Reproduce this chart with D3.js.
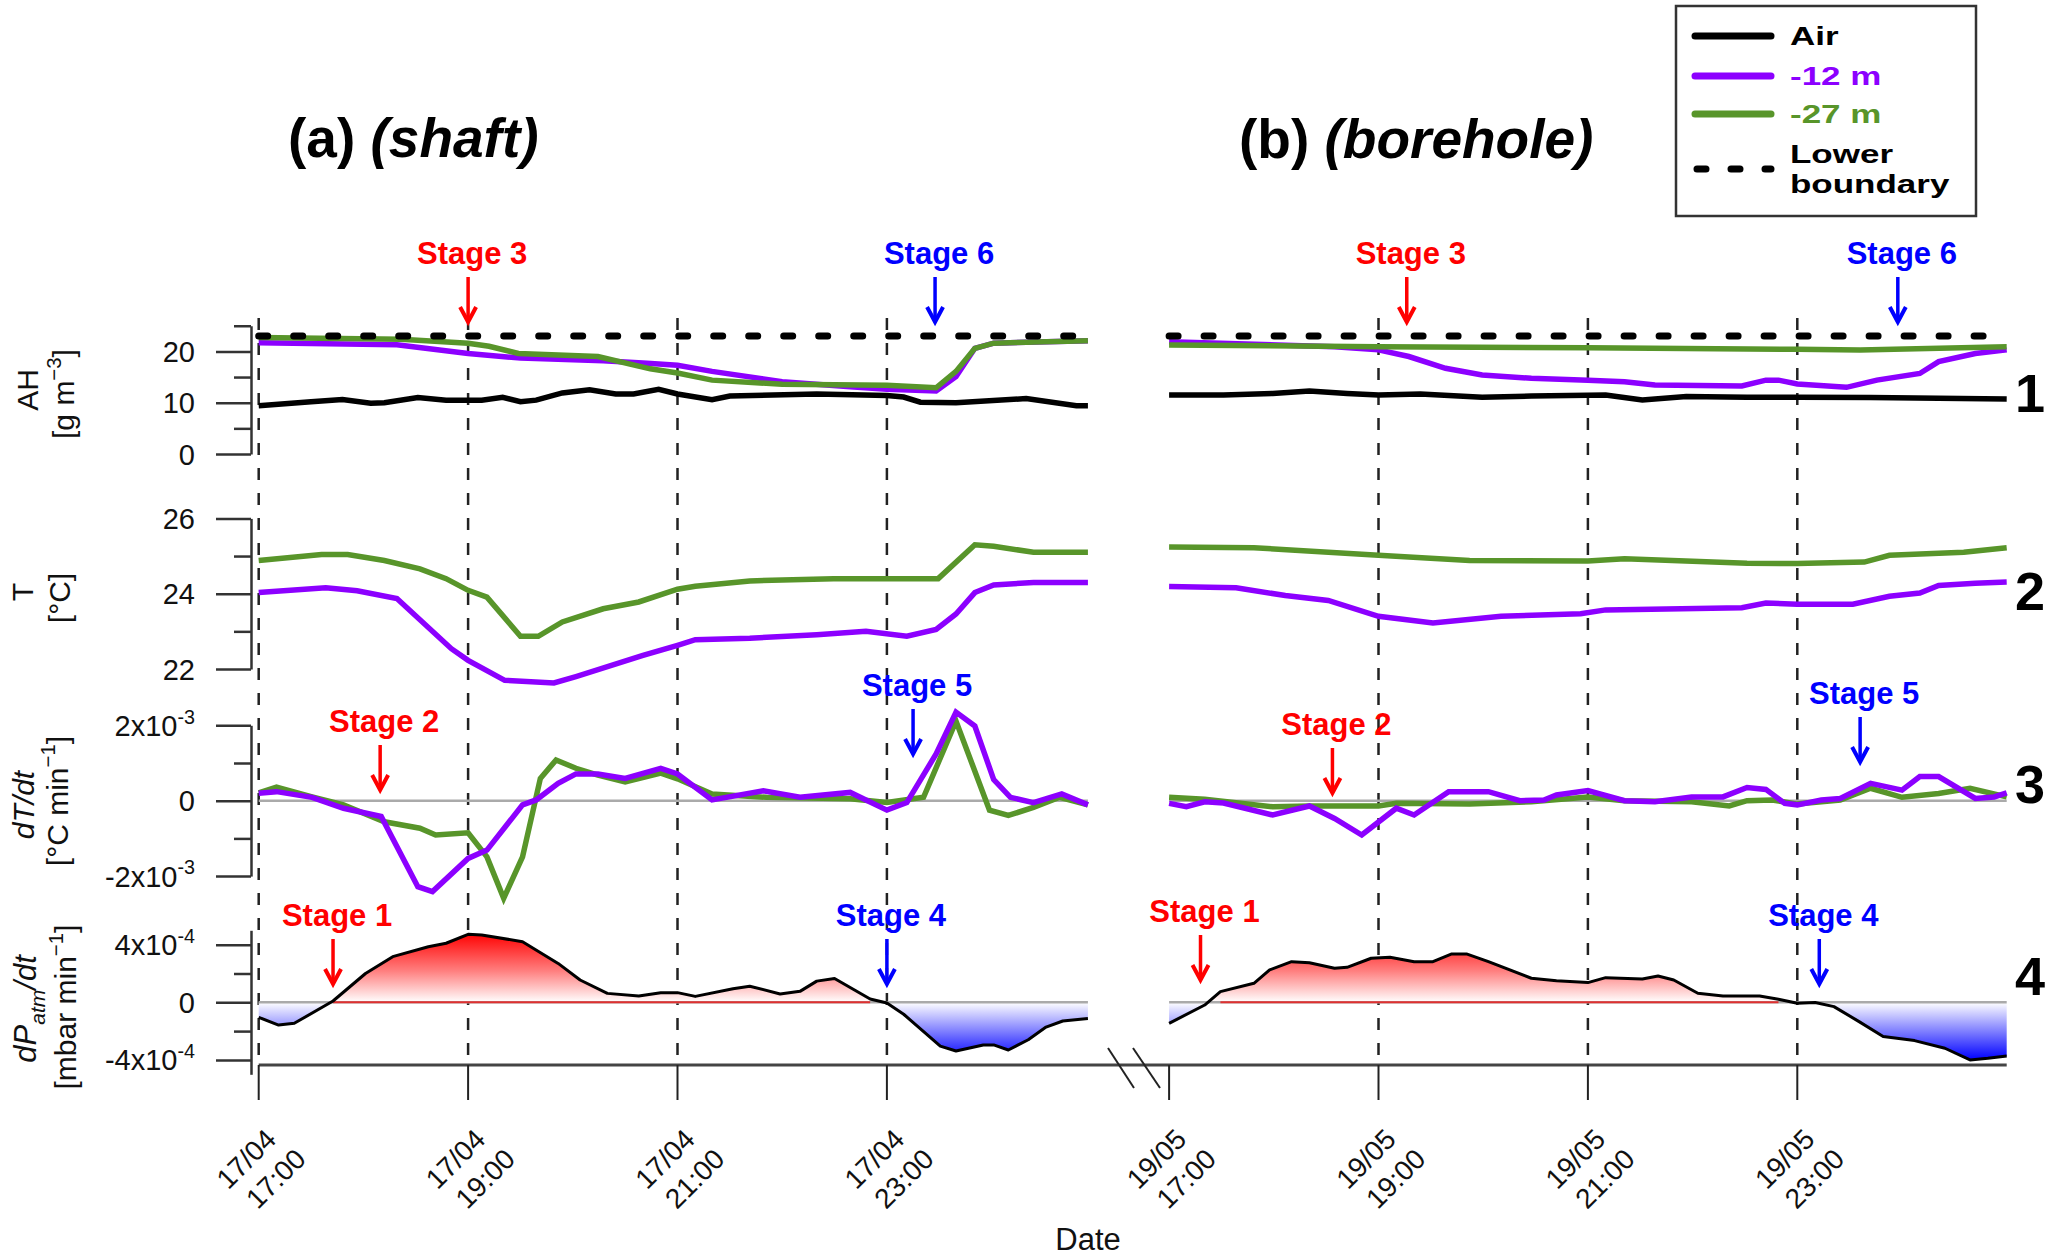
<!DOCTYPE html>
<html>
<head>
<meta charset="utf-8">
<script src="https://cdn.jsdelivr.net/npm/d3@7"></script>
<style>
  body { margin: 0; background: #fff; }
  svg { display: block; font-family: "Liberation Sans", Arial, sans-serif; }
</style>
</head>
<body>
<div id="wrapper"></div>
<script>
// Data. Time = hours after 17:00.

// (a) shaft, 17/04
const shaftAHair = [[0,9.4],[0.5,10.2],[0.8,10.6],[1.07,9.9],[1.2,10.0],[1.52,11.0],[1.79,10.5],[2.13,10.5],[2.33,11.05],[2.5,10.2],[2.65,10.5],[2.9,11.9],[3.16,12.5],[3.41,11.7],[3.58,11.7],[3.82,12.6],[4.0,11.7],[4.33,10.6],[4.5,11.3],[5.33,11.7],[6.0,11.4],[6.16,11.1],[6.32,10.1],[6.66,10.0],[7.33,10.8],[7.81,9.4],[7.92,9.4]];
const shaftAHm12 = [[0,21.7],[1.32,21.3],[2.0,19.6],[2.5,18.7],[3.29,18.2],[3.71,17.7],[4.0,17.3],[4.33,16.1],[5.0,14.1],[5.65,13.1],[6.0,12.6],[6.47,12.3],[6.66,15.1],[6.84,20.6],[7.02,21.6],[7.92,22.1]];
const shaftAHm27 = [[0,22.7],[1.36,22.35],[2.0,21.6],[2.2,21.0],[2.48,19.6],[3.24,19.0],[3.74,16.6],[4.0,15.8],[4.33,14.4],[5.0,13.6],[6.0,13.4],[6.47,12.9],[6.66,16.1],[6.84,20.6],[7.02,21.6],[7.92,22.1]];
const shaftTm12 = [[0,24.03],[0.64,24.16],[0.94,24.08],[1.32,23.87],[1.84,22.54],[2.0,22.23],[2.35,21.7],[2.82,21.63],[3.03,21.8],[3.67,22.36],[4.0,22.63],[4.17,22.78],[4.69,22.82],[5.33,22.91],[5.8,23.0],[6.19,22.87],[6.47,23.05],[6.66,23.46],[6.84,24.03],[7.02,24.23],[7.4,24.3],[7.92,24.3]];
const shaftTm27 = [[0,24.88],[0.6,25.04],[0.85,25.04],[1.2,24.88],[1.54,24.66],[1.79,24.4],[2.0,24.09],[2.18,23.91],[2.5,22.87],[2.67,22.87],[2.9,23.25],[3.29,23.6],[3.63,23.78],[4.0,24.12],[4.17,24.2],[4.69,24.34],[5.49,24.4],[6.49,24.4],[6.84,25.3],[7.02,25.26],[7.4,25.1],[7.92,25.1]];
// dT/dt in 1e-3 degC/min
const shaftDTm12 = [[0,0.2],[0.17,0.24],[0.51,0.09],[0.81,-0.2],[1.17,-0.42],[1.52,-2.28],[1.66,-2.41],[2.0,-1.53],[2.18,-1.31],[2.52,-0.11],[2.65,0.02],[2.86,0.46],[3.03,0.71],[3.24,0.71],[3.5,0.59],[3.84,0.86],[4.0,0.71],[4.33,0.02],[4.82,0.26],[5.17,0.09],[5.65,0.22],[6.0,-0.25],[6.19,-0.05],[6.47,1.24],[6.66,2.35],[6.84,1.98],[7.02,0.56],[7.18,0.09],[7.4,-0.05],[7.67,0.18],[7.92,-0.11]];
const shaftDTm27 = [[0,0.21],[0.17,0.36],[0.51,0.1],[0.81,-0.11],[1.2,-0.56],[1.54,-0.73],[1.69,-0.91],[2.0,-0.85],[2.18,-1.49],[2.34,-2.59],[2.52,-1.49],[2.69,0.59],[2.84,1.08],[3.03,0.86],[3.24,0.68],[3.5,0.5],[3.84,0.73],[4.0,0.58],[4.33,0.18],[4.85,0.09],[5.65,0.05],[6.0,-0.05],[6.35,0.09],[6.66,2.11],[6.98,-0.25],[7.16,-0.39],[7.4,-0.18],[7.65,0.09],[7.92,-0.11]];
// dPatm/dt in 1e-4 mbar/min
const shaftDP = [[0,-1.04],[0.19,-1.58],[0.34,-1.46],[0.71,0.09],[1.02,2.0],[1.28,3.17],[1.62,3.86],[1.79,4.1],[2.0,4.72],[2.13,4.67],[2.52,4.21],[2.86,2.7],[3.07,1.55],[3.33,0.62],[3.63,0.44],[3.84,0.67],[4.0,0.67],[4.17,0.41],[4.53,0.94],[4.69,1.12],[4.98,0.58],[5.17,0.76],[5.33,1.47],[5.5,1.65],[5.84,0.23],[6.0,-0.05],[6.16,-0.83],[6.51,-3.04],[6.66,-3.38],[6.92,-2.96],[7.02,-2.96],[7.16,-3.31],[7.35,-2.6],[7.52,-1.72],[7.68,-1.3],[7.92,-1.12]];

// (b) borehole, 19/05
const boreAHair = [[0,11.5],[0.52,11.5],[0.99,11.8],[1.34,12.3],[1.7,11.8],[2.0,11.5],[2.4,11.7],[2.99,11.05],[3.46,11.3],[4.17,11.5],[4.52,10.55],[4.94,11.2],[5.52,11.05],[6.0,11.05],[6.7,11.0],[8.0,10.7]];
const boreAHm12 = [[0,21.9],[1.58,20.9],[2.0,20.3],[2.29,19.0],[2.64,16.7],[2.99,15.4],[3.46,14.75],[4.0,14.4],[4.35,14.1],[4.64,13.45],[5.47,13.25],[5.7,14.4],[5.82,14.4],[6.0,13.65],[6.47,13.0],[6.76,14.4],[7.17,15.7],[7.35,18.0],[7.7,19.6],[8.0,20.3]];
const boreAHm27 = [[0,21.25],[2.0,20.9],[4.0,20.7],[6.0,20.4],[6.6,20.27],[8.0,20.9]];
const boreTm12 = [[0,24.19],[0.64,24.16],[1.11,23.95],[1.52,23.82],[2.0,23.4],[2.52,23.22],[3.17,23.4],[3.93,23.47],[4.17,23.57],[5.47,23.63],[5.7,23.75],[6.0,23.72],[6.53,23.72],[6.88,23.93],[7.17,24.02],[7.35,24.22],[7.7,24.28],[8.0,24.31]];
const boreTm27 = [[0,25.24],[0.81,25.22],[2.0,25.02],[2.87,24.88],[4.0,24.87],[4.35,24.93],[5.52,24.81],[6.0,24.8],[6.64,24.84],[6.88,25.02],[7.59,25.1],[8.0,25.22]];
const boreDTm12 = [[0,-0.07],[0.165,-0.16],[0.34,-0.03],[0.52,-0.06],[0.99,-0.38],[1.34,-0.14],[1.58,-0.47],[1.84,-0.91],[2.17,-0.2],[2.34,-0.38],[2.67,0.24],[3.05,0.24],[3.35,0],[3.58,0.02],[3.7,0.15],[4.0,0.27],[4.35,0],[4.64,-0.03],[4.99,0.1],[5.29,0.1],[5.52,0.35],[5.7,0.3],[5.88,-0.07],[6.0,-0.11],[6.23,0.02],[6.41,0.06],[6.7,0.46],[7.0,0.28],[7.17,0.64],[7.35,0.64],[7.7,0.06],[7.88,0.1],[8.0,0.21]];
const boreDTm27 = [[0,0.09],[0.34,0.04],[0.99,-0.16],[1.34,-0.14],[2.0,-0.14],[2.17,-0.07],[2.87,-0.09],[3.46,-0.03],[4.0,0.1],[4.35,0],[4.99,-0.03],[5.35,-0.14],[5.52,0],[5.76,0.02],[6.0,-0.09],[6.41,0.02],[6.7,0.33],[7.0,0.09],[7.35,0.19],[7.65,0.33],[8.0,0.1]];
const boreDP = [[0,-1.46],[0.34,-0.19],[0.49,0.74],[0.81,1.32],[0.96,2.25],[1.17,2.82],[1.34,2.75],[1.58,2.36],[1.7,2.43],[1.93,3.06],[2.11,3.13],[2.34,2.82],[2.52,2.82],[2.7,3.36],[2.84,3.36],[3.05,2.82],[3.46,1.67],[3.7,1.5],[4.0,1.37],[4.17,1.71],[4.52,1.62],[4.67,1.83],[4.82,1.55],[5.05,0.63],[5.29,0.44],[5.64,0.44],[5.82,0.21],[6.0,-0.07],[6.17,-0.02],[6.35,-0.3],[6.59,-1.34],[6.82,-2.38],[7.12,-2.66],[7.41,-3.19],[7.65,-4.0],[7.82,-3.89],[8.0,-3.73]];

const lowerBoundary = 23;

const tickHours = [0, 2, 4, 6];
const shaftDates = ['17/04', '17/04', '17/04', '17/04'];
const boreDates = ['19/05', '19/05', '19/05', '19/05'];
const clockLabels = ['17:00', '19:00', '21:00', '23:00'];

// stage markers: site, label, hour
const stageSites = ['shaft', 'shaft', 'shaft', 'shaft', 'shaft', 'shaft', 'bore', 'bore', 'bore', 'bore', 'bore', 'bore'];
const stageLabels = ['Stage 1', 'Stage 2', 'Stage 3', 'Stage 4', 'Stage 5', 'Stage 6', 'Stage 1', 'Stage 2', 'Stage 3', 'Stage 4', 'Stage 5', 'Stage 6'];
const stageHours = [0.71, 1.16, 2.0, 6.0, 6.25, 6.46, 0.3, 1.56, 2.27, 6.21, 6.6, 6.96];

const legendLabels = ['Air', '-12 m', '-27 m'];

// ---- layout
const W = 2067, H = 1259;
const axisX = 251;
const colAir = '#000', colM12 = '#8c00ff', colM27 = '#58952a';
const colRed = '#ff0000', colBlue = '#0000ff';
const stageTip = {
  shaft: { 'Stage 1': 984, 'Stage 2': 790, 'Stage 3': 322, 'Stage 4': 984, 'Stage 5': 754, 'Stage 6': 322 },
  bore: { 'Stage 1': 980, 'Stage 2': 793, 'Stage 3': 322, 'Stage 4': 984, 'Stage 5': 762, 'Stage 6': 322 },
};

const svg = d3.select('#wrapper').append('svg').attr('width', W).attr('height', H);

const xShaft = d3.scaleLinear().domain([0, 8]).range([258.7, 1096.3]);
const xBore = d3.scaleLinear().domain([0, 8]).range([1169.1, 2006.7]);

const yAH = d3.scaleLinear().domain([0, 25]).range([454, 325.75]);
const yT = d3.scaleLinear().domain([22, 26]).range([669, 518.4]);
const yDT = d3.scaleLinear().domain([-2, 2]).range([876.1, 725.3]);
const yDP = d3.scaleLinear().domain([-5, 5]).range([1074.3, 930.3]);

// rich text helper: parts = [{t, sup, sub, it}]
function rich(sel, parts, size) {
  let shift = 0;
  parts.forEach((p) => {
    const target = p.sup ? -0.42 * size : p.sub ? 0.3 * size : 0;
    const ts = sel.append('tspan')
      .style('font-size', (p.sup || p.sub ? size * 0.68 : size) + 'px')
      .style('font-style', p.it ? 'italic' : 'normal')
      .text(p.t);
    if (target - shift !== 0) ts.attr('dy', target - shift);
    shift = target;
  });
}

// gradients & clips
const defs = svg.append('defs');
const gRed = defs.append('linearGradient').attr('id', 'gRed')
  .attr('gradientUnits', 'userSpaceOnUse')
  .attr('x1', 0).attr('x2', 0).attr('y1', yDP(0)).attr('y2', yDP(4.8));
gRed.append('stop').attr('offset', 0).attr('stop-color', '#ffffff');
gRed.append('stop').attr('offset', 0.45).attr('stop-color', '#ff8080');
gRed.append('stop').attr('offset', 1).attr('stop-color', '#ff0000');
const gBlue = defs.append('linearGradient').attr('id', 'gBlue')
  .attr('gradientUnits', 'userSpaceOnUse')
  .attr('x1', 0).attr('x2', 0).attr('y1', yDP(0)).attr('y2', yDP(-4));
gBlue.append('stop').attr('offset', 0).attr('stop-color', '#ffffff');
gBlue.append('stop').attr('offset', 1).attr('stop-color', '#0000ff');
defs.append('clipPath').attr('id', 'cPos').append('rect')
  .attr('x', 0).attr('y', 0).attr('width', W).attr('height', yDP(0));
defs.append('clipPath').attr('id', 'cNeg').append('rect')
  .attr('x', 0).attr('y', yDP(0)).attr('width', W).attr('height', H - yDP(0));

// vertical dashed time lines + x axis
const axisY = 1065;
svg.append('line').attr('x1', xShaft(0)).attr('x2', xBore(8)).attr('y1', axisY).attr('y2', axisY)
  .attr('stroke', '#444').attr('stroke-width', 3);

function timeGrid(x, dates, showFirst) {
  tickHours.forEach((h, i) => {
    const px = x(h);
    if (i > 0 || showFirst) {
      svg.append('line').attr('x1', px).attr('x2', px).attr('y1', 318).attr('y2', axisY)
        .attr('stroke', '#222').attr('stroke-width', 2.5).attr('stroke-dasharray', '12 13');
    }
    svg.append('line').attr('x1', px).attr('x2', px).attr('y1', axisY).attr('y2', 1100)
      .attr('stroke', '#222').attr('stroke-width', 2);
    const g = svg.append('g').attr('transform', `translate(${px + 19},1141) rotate(-45)`)
      .attr('font-size', 28).attr('text-anchor', 'end').attr('fill', '#111');
    g.append('text').attr('x', 0).attr('y', 0).text(dates[i]);
    g.append('text').attr('x', 7).attr('y', 35).text(clockLabels[i]);
  });
}
timeGrid(xShaft, shaftDates, true);
timeGrid(xBore, boreDates, false);

// axis break
[[1108, 1134], [1133, 1160]].forEach(([a, b]) => {
  svg.append('line').attr('x1', a).attr('y1', 1048).attr('x2', b).attr('y2', 1088)
    .attr('stroke', '#222').attr('stroke-width', 2);
});

svg.append('text').attr('x', 1088).attr('y', 1250).attr('text-anchor', 'middle')
  .attr('font-size', 31).attr('fill', '#111').text('Date');

// y axes
function yAxis(scale, minor, major, labels) {
  const g1 = svg.append('g').attr('transform', `translate(${axisX},0)`)
    .call(d3.axisLeft(scale).tickValues(minor).tickSize(17).tickSizeOuter(0).tickFormat(''));
  const g2 = svg.append('g').attr('transform', `translate(${axisX},0)`)
    .call(d3.axisLeft(scale).tickValues(major).tickSize(35).tickSizeOuter(0).tickPadding(21).tickFormat(''));
  g2.select('.domain').remove();
  [g1, g2].forEach((g) => {
    g.select('.domain').attr('stroke', '#333').attr('stroke-width', 2.5);
    g.selectAll('.tick line').attr('stroke', '#333').attr('stroke-width', 2.5);
  });
  g2.selectAll('.tick text').each(function (d, i) {
    const t = d3.select(this).attr('dy', null).attr('y', 10).attr('fill', '#111')
      .attr('font-family', '"Liberation Sans", Arial, sans-serif');
    rich(t, labels[i], 29);
  });
}
const P = (t) => [{ t }];
yAxis(yAH, [5, 15, 25], [0, 10, 20], [P('0'), P('10'), P('20')]);
yAxis(yT, [23, 25], [22, 24, 26], [P('22'), P('24'), P('26')]);
yAxis(yDT, [-1, 1], [-2, 0, 2], [
  [{ t: '-2x10' }, { t: '-3', sup: true }], P('0'), [{ t: '2x10' }, { t: '-3', sup: true }]]);
yAxis(yDP, [-2, 2], [-4, 0, 4], [
  [{ t: '-4x10' }, { t: '-4', sup: true }], P('0'), [{ t: '4x10' }, { t: '-4', sup: true }]]);

// y titles
function yTitle(bx, cy, parts, size) {
  const t = svg.append('text').attr('transform', `translate(${bx},${cy}) rotate(-90)`)
    .attr('text-anchor', 'middle').attr('fill', '#111');
  rich(t, parts, size);
}
yTitle(38, 390, P('AH'), 30);
yTitle(74, 394, [{ t: '[g m' }, { t: '\u22123', sup: true }, { t: ']' }], 30);
yTitle(33, 592, P('T'), 30);
yTitle(70, 598, P('[°C]'), 30);
yTitle(34, 805, [{ t: 'dT/dt', it: true }], 30);
yTitle(68, 801, [{ t: '[°C min' }, { t: '\u22121', sup: true }, { t: ']' }], 30);
yTitle(36, 1009, [{ t: 'dP', it: true }, { t: 'atm', sub: true, it: true }, { t: '/dt', it: true }], 31);
yTitle(76, 1007, [{ t: '[mbar min' }, { t: '\u22121', sup: true }, { t: ']' }], 30);

// panels
function drawSite(x, d) {
  const line = (y) => d3.line().x((p) => x(p[0])).y((p) => y(p[1]));
  const x0 = x(d.dp[0][0]), x1 = x(d.dp[d.dp.length - 1][0]);

  // panel 1: AH
  svg.append('path').attr('d', line(yAH)(d.ahAir)).attr('fill', 'none').attr('stroke', colAir).attr('stroke-width', 5.5);
  svg.append('path').attr('d', line(yAH)(d.ahM12)).attr('fill', 'none').attr('stroke', colM12).attr('stroke-width', 5.5);
  svg.append('path').attr('d', line(yAH)(d.ahM27)).attr('fill', 'none').attr('stroke', colM27).attr('stroke-width', 5.5);
  svg.append('path').attr('d', line(yAH)([[d.dp[0][0], lowerBoundary], [d.dp[d.dp.length - 1][0], lowerBoundary]]))
    .attr('fill', 'none').attr('stroke', '#000').attr('stroke-width', 7)
    .attr('stroke-linecap', 'round').attr('stroke-dasharray', '9 26');

  // panel 2: T
  svg.append('path').attr('d', line(yT)(d.tM27)).attr('fill', 'none').attr('stroke', colM27).attr('stroke-width', 5.5);
  svg.append('path').attr('d', line(yT)(d.tM12)).attr('fill', 'none').attr('stroke', colM12).attr('stroke-width', 5.5);

  // panel 3: dT/dt
  svg.append('line').attr('x1', x0).attr('x2', x1).attr('y1', yDT(0)).attr('y2', yDT(0))
    .attr('stroke', '#aaa').attr('stroke-width', 2.5);
  svg.append('path').attr('d', line(yDT)(d.dtM27)).attr('fill', 'none').attr('stroke', colM27).attr('stroke-width', 5.5);
  svg.append('path').attr('d', line(yDT)(d.dtM12)).attr('fill', 'none').attr('stroke', colM12).attr('stroke-width', 5.5);

  // panel 4: dP/dt
  const area = d3.area().x((p) => x(p[0])).y0(yDP(0)).y1((p) => yDP(p[1]));
  svg.append('path').attr('d', area(d.dp)).attr('fill', 'url(#gRed)').attr('clip-path', 'url(#cPos)');
  svg.append('path').attr('d', area(d.dp)).attr('fill', 'url(#gBlue)').attr('clip-path', 'url(#cNeg)');
  svg.append('line').attr('x1', x0).attr('x2', x1).attr('y1', yDP(0)).attr('y2', yDP(0))
    .attr('stroke', '#aaa').attr('stroke-width', 2.5);
  const zeroRed = d3.line().defined((p) => p[1] >= 0).x((p) => x(p[0])).y(yDP(0));
  svg.append('path').attr('d', zeroRed(d.dp)).attr('fill', 'none').attr('stroke', '#e03030').attr('stroke-width', 2);
  svg.append('path').attr('d', line(yDP)(d.dp)).attr('fill', 'none').attr('stroke', '#000').attr('stroke-width', 3)
    .attr('stroke-linejoin', 'round');
}

drawSite(xShaft, { ahAir: shaftAHair, ahM12: shaftAHm12, ahM27: shaftAHm27, tM12: shaftTm12, tM27: shaftTm27, dtM12: shaftDTm12, dtM27: shaftDTm27, dp: shaftDP });
drawSite(xBore, { ahAir: boreAHair, ahM12: boreAHm12, ahM27: boreAHm27, tM12: boreTm12, tM27: boreTm27, dtM12: boreDTm12, dtM27: boreDTm27, dp: boreDP });

// stage arrows
stageLabels.forEach((lab, i) => {
  const site = stageSites[i];
  const x = (site === 'shaft' ? xShaft : xBore)(stageHours[i]);
  const tip = stageTip[site][lab];
  const col = +lab.slice(-1) <= 3 ? colRed : colBlue;
  svg.append('line').attr('x1', x).attr('x2', x).attr('y1', tip - 45).attr('y2', tip - 3)
    .attr('stroke', col).attr('stroke-width', 3.5);
  svg.append('path').attr('d', `M${x - 8},${tip - 15}L${x},${tip}L${x + 8},${tip - 15}`)
    .attr('fill', 'none').attr('stroke', col).attr('stroke-width', 4).attr('stroke-linejoin', 'miter');
  svg.append('text').attr('x', x + 4).attr('y', tip - 58).attr('text-anchor', 'middle')
    .attr('font-size', 31).attr('font-weight', 'bold').attr('fill', col).text(lab);
});

// panel numbers
[['1', 412], ['2', 610], ['3', 803], ['4', 995]].forEach(([n, y]) => {
  svg.append('text').attr('x', 2015).attr('y', y).attr('font-size', 54).attr('font-weight', 'bold')
    .attr('fill', '#000').text(n);
});

// titles
const ta = svg.append('text').attr('x', 288).attr('y', 157).attr('font-size', 55).attr('font-weight', 'bold');
ta.append('tspan').text('(a) ');
ta.append('tspan').attr('font-style', 'italic').text('(shaft)');
const tb = svg.append('text').attr('x', 1239).attr('y', 158).attr('font-size', 55).attr('font-weight', 'bold');
tb.append('tspan').text('(b) ');
tb.append('tspan').attr('font-style', 'italic').text('(borehole)');

// legend
const lg = svg.append('g');
lg.append('rect').attr('x', 1676).attr('y', 6).attr('width', 300).attr('height', 210)
  .attr('fill', '#fff').attr('stroke', '#333').attr('stroke-width', 2.5);
const legCols = [colAir, colM12, colM27];
const legY = [36, 76, 114];
legendLabels.forEach((lab, i) => {
  lg.append('line').attr('x1', 1695).attr('x2', 1771).attr('y1', legY[i]).attr('y2', legY[i])
    .attr('stroke', legCols[i]).attr('stroke-width', 7).attr('stroke-linecap', 'round');
  lg.append('text').attr('transform', `translate(1790,${legY[i] + 9}) scale(1.4,1)`)
    .attr('font-size', 25).attr('font-weight', 'bold').attr('fill', legCols[i]).text(lab);
});
lg.append('line').attr('x1', 1697).attr('x2', 1771).attr('y1', 169).attr('y2', 169)
  .attr('stroke', '#000').attr('stroke-width', 7).attr('stroke-linecap', 'round').attr('stroke-dasharray', '9 25');
lg.append('text').attr('transform', 'translate(1790,163) scale(1.4,1)')
  .attr('font-size', 25).attr('font-weight', 'bold').text('Lower');
lg.append('text').attr('transform', 'translate(1790,193) scale(1.4,1)')
  .attr('font-size', 25).attr('font-weight', 'bold').text('boundary');
</script>
</body>
</html>
